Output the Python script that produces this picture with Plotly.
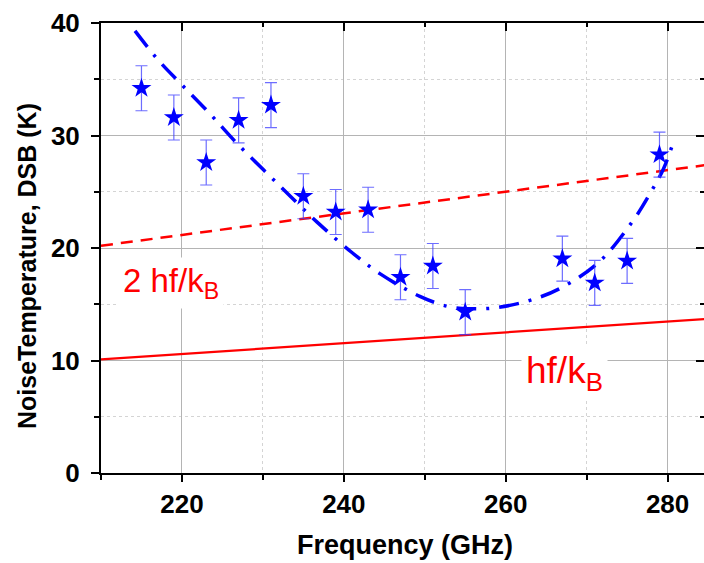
import plotly.graph_objects as go

# Measured noise temperature (DSB) with error bars
freq_ghz = [215, 219, 223, 227, 231, 235, 239, 243, 247, 251, 255, 267, 271, 275, 279]
noise_k = [34.2, 31.6, 27.6, 31.35, 32.7, 24.6, 23.2, 23.4, 17.4, 18.4, 14.3, 19.05, 16.9, 18.85, 28.3]
noise_err = [2.0] * len(freq_ghz)

# Fit curve (dash-dot)
fit_freq = [214.2, 217.2, 220.0, 223.5, 226.8, 231.7, 236.7, 241.0, 244.5, 249.4,
            252.9, 255.6, 258.9, 263.0, 266.7, 271.6, 275.8, 277.8, 279.5, 280.8]
fit_noise = [39.3, 36.6, 34.5, 31.9, 29.3, 25.8, 22.3, 19.6, 17.7, 15.7,
             14.8, 14.6, 14.7, 15.35, 16.4, 18.8, 22.5, 24.8, 27.05, 29.6]

# Quantum limit lines
limit_freq = [210, 285]
limit_2hf = [20.2, 27.4]
limit_hf = [10.1, 13.7]

FONT = "Arial, Liberation Sans, sans-serif"
X_RANGE = [210, 284.5]
Y_RANGE = [0, 40]

fig = go.Figure()

fig.add_trace(go.Scatter(
    x=limit_freq, y=limit_2hf, mode="lines",
    line=dict(color="#ff0000", width=2.5, dash="12px,8px"),
    showlegend=False, hoverinfo="skip",
))
fig.add_trace(go.Scatter(
    x=limit_freq, y=limit_hf, mode="lines",
    line=dict(color="#ff0000", width=2.2),
    showlegend=False, hoverinfo="skip",
))
fig.add_trace(go.Scatter(
    x=fit_freq, y=fit_noise, mode="lines", line_shape="spline",
    line=dict(color="#0000ff", width=3.5, dash="20px,10px,3px,10px"),
    showlegend=False,
))
fig.add_trace(go.Scatter(
    x=freq_ghz, y=noise_k, mode="markers",
    marker=dict(symbol="star", size=15, color="#0000ff", line=dict(width=0)),
    error_y=dict(type="data", array=noise_err, visible=True,
                 color="rgba(60,60,255,0.75)", thickness=1.2, width=6),
    showlegend=False,
))
# dummy trace so the mirrored top/right axes get drawn
fig.add_trace(go.Scatter(x=[], y=[], xaxis="x2", yaxis="y2",
                         showlegend=False, hoverinfo="skip"))

fig.add_annotation(
    x=218.7, y=16.9, xref="x", yref="y", showarrow=False,
    text="2 hf/k<sub>B</sub>", font=dict(family=FONT, size=33, color="#ff0000"),
    bgcolor="white", borderpad=4,
)
fig.add_annotation(
    x=267.3, y=8.9, xref="x", yref="y", showarrow=False,
    text="hf/k<sub>B</sub>", font=dict(family=FONT, size=37, color="#ff0000"),
    bgcolor="white", borderpad=4,
)

# axis titles as annotations so they can sit where the reference has them
fig.add_annotation(
    x=0.5045, y=-0.16, xref="paper", yref="paper", showarrow=False,
    xanchor="center", yanchor="middle",
    text="Frequency (GHz)", font=dict(family=FONT, size=27, weight="bold", color="black"),
)
fig.add_annotation(
    x=-0.1227, y=0.46, xref="paper", yref="paper", showarrow=False,
    xanchor="center", yanchor="middle", textangle=-90,
    text="NoiseTemperature, DSB (K)", font=dict(family=FONT, size=25, weight="bold", color="black"),
)

axis_common = dict(
    showline=True, linecolor="black", linewidth=2,
    tickcolor="black", tickwidth=2,
    zeroline=False, automargin=False,
    gridcolor="#b4b4b4", gridwidth=1,
)

fig.update_layout(
    width=704, height=563,
    margin=dict(l=101, r=0, t=23, b=90),
    plot_bgcolor="white", paper_bgcolor="white",
    font=dict(family=FONT, color="black"),
    xaxis=dict(
        range=X_RANGE, dtick=20, tick0=200,
        ticks="outside", ticklen=7,
        tickfont=dict(size=26, weight="bold"),
        minor=dict(dtick=10, tick0=200, ticks="outside", ticklen=5, tickcolor="black",
                   showgrid=True, gridcolor="#d4d4d4", griddash="dot", gridwidth=1),
        **axis_common,
    ),
    yaxis=dict(
        range=Y_RANGE, dtick=10,
        ticks="outside", ticklen=8, ticklabelstandoff=6,
        tickfont=dict(size=26, weight="bold"),
        minor=dict(dtick=5, ticks="outside", ticklen=5, tickcolor="black",
                   showgrid=True, gridcolor="#d4d4d4", griddash="dot", gridwidth=1),
        **axis_common,
    ),
    xaxis2=dict(
        overlaying="x", side="top", anchor="y", range=X_RANGE, dtick=20, tick0=200,
        ticks="inside", ticklen=8, showticklabels=False, showgrid=False,
        minor=dict(dtick=10, tick0=200, ticks="inside", ticklen=4, tickcolor="black"),
        showline=True, linecolor="black", linewidth=2, tickcolor="black", tickwidth=2,
        zeroline=False, automargin=False,
    ),
    yaxis2=dict(
        overlaying="y", side="right", anchor="x", range=Y_RANGE, dtick=10,
        ticks="inside", ticklen=8, showticklabels=False, showgrid=False,
        minor=dict(dtick=5, ticks="inside", ticklen=4, tickcolor="black"),
        showline=True, linecolor="black", linewidth=2, tickcolor="black", tickwidth=2,
        zeroline=False, automargin=False,
    ),
)

# drop the default page margin so the figure sits at the window's corner
fig.write_html(
    "out.html",
    config={"displayModeBar": False},
    post_script="document.body.style.margin='0';",
)
